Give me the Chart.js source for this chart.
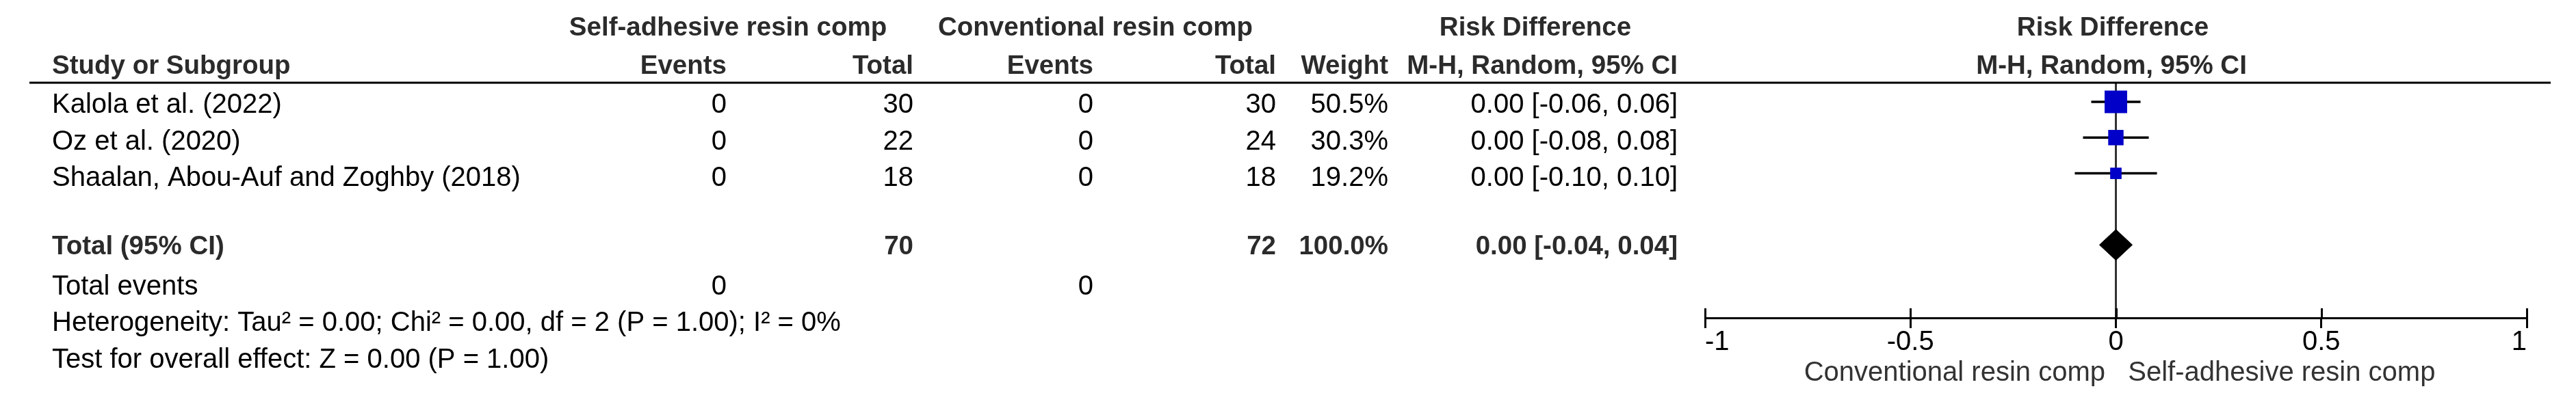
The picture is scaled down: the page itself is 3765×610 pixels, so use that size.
<!DOCTYPE html>
<html>
<head>
<meta charset="utf-8">
<title>Forest plot: self-adhesive vs conventional resin composite</title>
<script src="https://cdn.jsdelivr.net/npm/chart.js@4.4.1/dist/chart.umd.min.js"></script>
<style>
  html, body { margin: 0; padding: 0; background: #fff; }
  #wrap { width: 3765px; height: 610px; }
</style>
</head>
<body>
<div id="wrap"><canvas id="forest" width="3765" height="610"></canvas></div>
<script>
/* Risk-difference forest plot (RevMan style): the study table on the left
   is text drawn around the chart, the plot on the right is Chart.js. */

// ---- data ----
var STUDIES      = ["Kalola et al. (2022)", "Oz et al. (2020)", "Shaalan, Abou-Auf and Zoghby (2018)"];
var SELF_EVENTS  = [0, 0, 0];
var SELF_TOTAL   = [30, 22, 18];
var CONV_EVENTS  = [0, 0, 0];
var CONV_TOTAL   = [30, 24, 18];
var WEIGHTS      = [50.5, 30.3, 19.2];
var RD           = [0.00, 0.00, 0.00];
var RD_LOW       = [-0.06, -0.08, -0.10];
var RD_HIGH      = [0.06, 0.08, 0.10];

var POOLED_RD = 0.00, POOLED_LOW = -0.04, POOLED_HIGH = 0.04;
var TOTAL_SELF = 70, TOTAL_CONV = 72, TOTAL_WEIGHT = 100.0;
var TOTAL_EVENTS_SELF = 0, TOTAL_EVENTS_CONV = 0;
var HETEROGENEITY = "Heterogeneity: Tau\u00B2 = 0.00; Chi\u00B2 = 0.00, df = 2 (P = 1.00); I\u00B2 = 0%";
var OVERALL       = "Test for overall effect: Z = 0.00 (P = 1.00)";

var GROUP_HEADERS  = ["Self-adhesive resin comp", "Conventional resin comp", "Risk Difference", "Risk Difference"];
var COLUMN_HEADERS = ["Study or Subgroup", "Events", "Total", "Events", "Total", "Weight",
                      "M-H, Random, 95% CI", "M-H, Random, 95% CI"];
var X_TICKS       = [-1, -0.5, 0, 0.5, 1];
var X_TICK_LABELS = ["-1", "-0.5", "0", "0.5", "1"];
var FAVOURS       = ["Conventional resin comp", "Self-adhesive resin comp"];

(function () {
  "use strict";

  // ---- layout (pixels of the 3765x610 page) ----
  var W = 3765, H = 610;
  var PLOT_LEFT = 2492, PLOT_RIGHT = 3693, PLOT_TOP = 121, PLOT_BOTTOM = 465;
  var Y_MIN = -0.535, Y_MAX = 6.042;          // row units, reversed
  var STUDY_ROWS = [0, 1, 2], TOTAL_ROW = 4;
  var DIAMOND_HALF = 0.43;                   // rows
  // text rows (row units) sit a touch lower than the markers
  var T_GROUP = -2.065, T_HEAD = -0.994, T_STUDY = [0.096, 1.119, 2.138];
  var T_TOTAL = 4.054, T_EVENTS = 5.182, T_HET = 6.201, T_TEST = 7.222;
  var COL = { study: 76, selfEv: 1062, selfTot: 1335, convEv: 1598, convTot: 1865,
              weight: 2029, ci: 2452 };
  var CENTRE = { self: 1064, conv: 1601, rd: 2244, forest: 3088 };

  var FAMILY = '"Liberation Sans", Arial, sans-serif';
  var REG = "40px " + FAMILY, BOLD = "bold 38.5px " + FAMILY;
  var HEAD_INK = "#2b2b2b", INK = "#000";

  function ci(rd, lo, hi) {
    return rd.toFixed(2) + " [" + lo.toFixed(2) + ", " + hi.toFixed(2) + "]";
  }
  // RevMan square: side grows with the study weight
  function boxSide(w) { return 6.7 + 0.52 * w; }

  var datasets = [];
  STUDIES.forEach(function (name, i) {
    datasets.push({
      type: "line",
      label: name + " CI",
      data: [{ x: RD_LOW[i], y: STUDY_ROWS[i] }, { x: RD_HIGH[i], y: STUDY_ROWS[i] }],
      borderColor: "#000",
      borderWidth: 3.5,
      pointRadius: 0,
      fill: false,
      order: 3
    });
  });
  datasets.push({
    label: "Study estimate",
    data: STUDIES.map(function (_, i) { return { x: RD[i], y: STUDY_ROWS[i] }; }),
    pointStyle: "rect",
    pointRadius: WEIGHTS.map(function (w) { return boxSide(w) / Math.SQRT2; }),
    backgroundColor: "#0000c8",
    borderWidth: 0,
    order: 2
  });
  datasets.push({
    type: "line",
    label: "Total (95% CI)",
    data: [
      { x: POOLED_LOW, y: TOTAL_ROW },
      { x: POOLED_RD, y: TOTAL_ROW - DIAMOND_HALF },
      { x: POOLED_HIGH, y: TOTAL_ROW },
      { x: POOLED_RD, y: TOTAL_ROW + DIAMOND_HALF },
      { x: POOLED_LOW, y: TOTAL_ROW }
    ],
    borderColor: "#000",
    backgroundColor: "#000",
    borderWidth: 1,
    pointRadius: 0,
    tension: 0,
    fill: "shape",
    order: 1
  });

  // table text, header rule and the upper half of the axis ticks
  var tablePlugin = {
    id: "forestTable",
    afterDraw: function (chart) {
      var ctx = chart.ctx, ys = chart.scales.y, xs = chart.scales.x, area = chart.chartArea;

      function text(s, x, row, align, font, color) {
        ctx.font = font;
        ctx.fillStyle = color;
        ctx.textAlign = align;
        ctx.textBaseline = "middle";
        ctx.fillText(s, x, ys.getPixelForValue(row));
      }

      ctx.save();
      // header rule
      ctx.strokeStyle = "#000";
      ctx.lineWidth = 3;
      ctx.beginPath();
      ctx.moveTo(43, area.top);
      ctx.lineTo(3728, area.top);
      ctx.stroke();

      // ticks also reach a little above the axis line
      ctx.lineWidth = 3;
      X_TICKS.forEach(function (v) {
        var px = Math.round(xs.getPixelForValue(v)) + 0.5;
        ctx.beginPath();
        ctx.moveTo(px, area.bottom);
        ctx.lineTo(px, area.bottom - 14);
        ctx.stroke();
      });

      // header rows
      text(GROUP_HEADERS[0], CENTRE.self, T_GROUP, "center", BOLD, HEAD_INK);
      text(GROUP_HEADERS[1], CENTRE.conv, T_GROUP, "center", BOLD, HEAD_INK);
      text(GROUP_HEADERS[2], CENTRE.rd, T_GROUP, "center", BOLD, HEAD_INK);
      text(GROUP_HEADERS[3], CENTRE.forest, T_GROUP, "center", BOLD, HEAD_INK);

      text(COLUMN_HEADERS[0], COL.study, T_HEAD, "left", BOLD, HEAD_INK);
      text(COLUMN_HEADERS[1], COL.selfEv, T_HEAD, "right", BOLD, HEAD_INK);
      text(COLUMN_HEADERS[2], COL.selfTot, T_HEAD, "right", BOLD, HEAD_INK);
      text(COLUMN_HEADERS[3], COL.convEv, T_HEAD, "right", BOLD, HEAD_INK);
      text(COLUMN_HEADERS[4], COL.convTot, T_HEAD, "right", BOLD, HEAD_INK);
      text(COLUMN_HEADERS[5], COL.weight, T_HEAD, "right", BOLD, HEAD_INK);
      text(COLUMN_HEADERS[6], COL.ci, T_HEAD, "right", BOLD, HEAD_INK);
      text(COLUMN_HEADERS[7], CENTRE.forest - 2, T_HEAD, "center", BOLD, HEAD_INK);

      // study rows
      STUDIES.forEach(function (name, i) {
        var r = T_STUDY[i];
        text(name, COL.study, r, "left", REG, INK);
        text(String(SELF_EVENTS[i]), COL.selfEv, r, "right", REG, INK);
        text(String(SELF_TOTAL[i]), COL.selfTot, r, "right", REG, INK);
        text(String(CONV_EVENTS[i]), COL.convEv, r, "right", REG, INK);
        text(String(CONV_TOTAL[i]), COL.convTot, r, "right", REG, INK);
        text(WEIGHTS[i].toFixed(1) + "%", COL.weight, r, "right", REG, INK);
        text(ci(RD[i], RD_LOW[i], RD_HIGH[i]), COL.ci, r, "right", REG, INK);
      });

      // pooled row
      text("Total (95% CI)", COL.study, T_TOTAL, "left", BOLD, HEAD_INK);
      text(String(TOTAL_SELF), COL.selfTot, T_TOTAL, "right", BOLD, HEAD_INK);
      text(String(TOTAL_CONV), COL.convTot, T_TOTAL, "right", BOLD, HEAD_INK);
      text(TOTAL_WEIGHT.toFixed(1) + "%", COL.weight, T_TOTAL, "right", BOLD, HEAD_INK);
      text(ci(POOLED_RD, POOLED_LOW, POOLED_HIGH), COL.ci, T_TOTAL, "right", BOLD, HEAD_INK);

      text("Total events", COL.study, T_EVENTS, "left", REG, INK);
      text(String(TOTAL_EVENTS_SELF), COL.selfEv, T_EVENTS, "right", REG, INK);
      text(String(TOTAL_EVENTS_CONV), COL.convEv, T_EVENTS, "right", REG, INK);
      text(HETEROGENEITY, COL.study, T_HET, "left", REG, INK);
      text(OVERALL, COL.study, T_TEST, "left", REG, INK);
      ctx.restore();
    }
  };

  new Chart(document.getElementById("forest"), {
    type: "scatter",
    data: { datasets: datasets },
    options: {
      responsive: false,
      animation: false,
      events: [],
      layout: { padding: { left: PLOT_LEFT, right: W - PLOT_RIGHT, top: PLOT_TOP, bottom: 0 } },
      scales: {
        x: {
          type: "linear",
          position: "bottom",
          min: -1,
          max: 1,
          afterBuildTicks: function (s) {
            s.ticks = X_TICKS.map(function (v) { return { value: v }; });
          },
          afterFit: function (s) { s.height = H - PLOT_BOTTOM; },
          grid: {
            color: function (c) {
              return c.tick && c.tick.value === 0 ? "#333" : "rgba(0,0,0,0)";
            },
            lineWidth: 3,
            drawTicks: true,
            tickLength: 15,
            tickColor: "#000",
            tickWidth: 3
          },
          border: { display: true, color: "#000", width: 3 },
          ticks: {
            align: "inner",
            autoSkip: false,
            maxRotation: 0,
            padding: 0,
            color: "#000",
            font: { family: FAMILY, size: 40, lineHeight: 1.05 },
            callback: function (v, i) { return X_TICK_LABELS[i]; }
          },
          title: {
            display: true,
            text: " " + FAVOURS[0] + "   " + FAVOURS[1],
            color: "#333",
            font: { family: FAMILY, size: 40, lineHeight: 1.2 },
            padding: { top: 0, bottom: 40 }
          }
        },
        y: { type: "linear", display: false, reverse: true, min: Y_MIN, max: Y_MAX }
      },
      plugins: { legend: { display: false }, tooltip: { enabled: false } }
    },
    plugins: [tablePlugin]
  });
})();
</script>
</body>
</html>
